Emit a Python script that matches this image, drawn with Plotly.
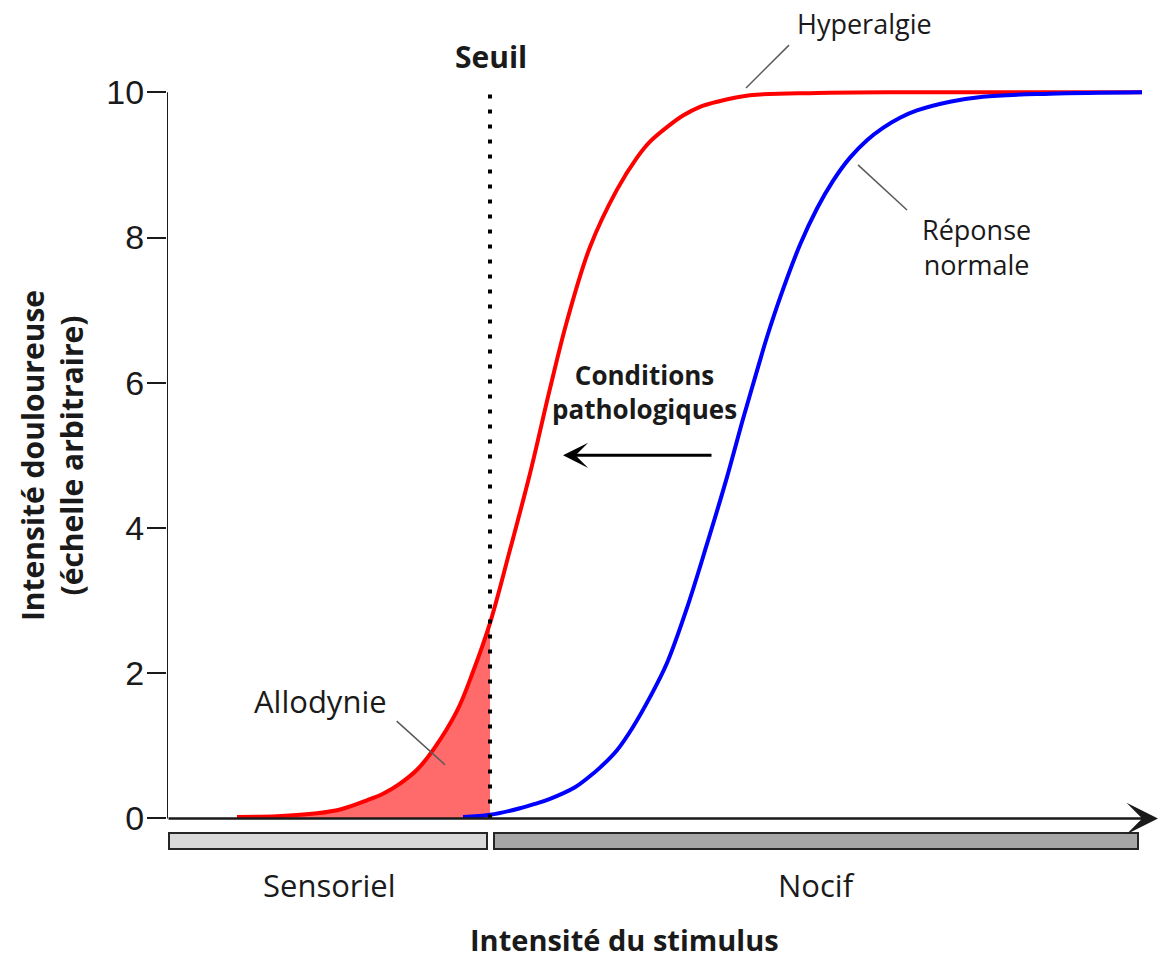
import plotly.graph_objects as go

# stimulus intensity (arbitrary units) and pain intensity
hyper_x = [7.0, 11.0, 15.0, 17.5, 20.0, 21.6, 23.3, 25.0, 26.6, 29.0, 30.6, 32.3,
           34.3, 36.3, 38.3, 40.0, 42.3, 45.0, 47.0, 48.3, 50.0, 51.6, 53.3, 55.0,
           58.3, 65.0, 73.3, 97.5]
hyper_y = [0.02, 0.03, 0.07, 0.13, 0.25, 0.34, 0.48, 0.67, 0.94, 1.48, 2.02, 2.69,
           3.70, 4.75, 5.92, 6.85, 7.87, 8.66, 9.10, 9.32, 9.52, 9.68, 9.80, 9.87,
           9.96, 9.99, 10.0, 10.0]

normal_x = [29.6, 32.3, 35.3, 36.8, 38.3, 40.8, 42.0, 43.3, 45.0, 46.6, 48.3, 50.0,
            52.0, 54.0, 56.0, 57.6, 58.8, 60.0, 61.3, 63.3, 65.0, 66.6, 68.3, 70.0,
            71.6, 73.3, 75.0, 78.3, 81.6, 88.3, 97.5]
normal_y = [0.02, 0.05, 0.14, 0.20, 0.27, 0.43, 0.55, 0.70, 0.94, 1.26, 1.67, 2.14,
            2.90, 3.78, 4.70, 5.50, 6.07, 6.63, 7.17, 7.90, 8.40, 8.78, 9.10, 9.34,
            9.51, 9.65, 9.75, 9.87, 9.94, 9.98, 10.0]

seuil = 32.3

zones = ["Sensoriel", "Nocif"]
zone_start = [0.2, 32.7]
zone_end = [32.0, 97.1]
zone_colors = ["#d9d9d9", "#a6a6a6"]

y_ticks = [0, 2, 4, 6, 8, 10]

TEXT = "#1a1a1a"
FONT = "Open Sans"
XR = [0, 99.3]
YR = [-0.6, 10.5]


def to_px(x):
    return (x - XR[0]) / (XR[1] - XR[0])


def to_py(y):
    return (y - YR[0]) / (YR[1] - YR[0])


fig = go.Figure()

# allodynia area: red curve below the threshold
allo_x = [x for x in hyper_x if x <= seuil]
allo_y = hyper_y[:len(allo_x)]
fig.add_trace(go.Scatter(
    x=allo_x, y=allo_y,
    mode='lines',
    line=dict(color='rgba(0,0,0,0)', shape='spline', simplify=False),
    fill='tozeroy',
    fillcolor='rgb(255,107,107)',
    hoverinfo='skip'
))

fig.add_trace(go.Scatter(
    x=hyper_x, y=hyper_y,
    mode='lines',
    name='Hyperalgie',
    line=dict(color='#ff0000', width=4, shape='spline', simplify=False)
))

fig.add_trace(go.Scatter(
    x=normal_x, y=normal_y,
    mode='lines',
    name='Réponse normale',
    line=dict(color='#0000ff', width=4, shape='spline', simplify=False)
))

shapes = []
# y axis line from 0 to 10
shapes.append(dict(type='line', xref='x', yref='y', x0=0, x1=0, y0=0, y1=10,
                   line=dict(color=TEXT, width=2)))
# threshold
shapes.append(dict(type='line', xref='x', yref='y', x0=seuil, x1=seuil, y0=0, y1=10.1,
                   line=dict(color='black', width=4, dash='4px,11px')))
# zone bars
for s, e, c in zip(zone_start, zone_end, zone_colors):
    shapes.append(dict(type='rect', xref='x', yref='y', x0=s, x1=e, y0=-0.2, y1=-0.42,
                       fillcolor=c, line=dict(color='#262626', width=2)))
# leader lines
for x0, y0, x1, y1 in [(22.97, 1.34, 27.8, 0.74),
                       (62.2, 10.65, 57.9, 10.06),
                       (69.1, 9.0, 74.0, 8.38)]:
    shapes.append(dict(type='line', xref='paper', yref='paper',
                       x0=to_px(x0), y0=to_py(y0), x1=to_px(x1), y1=to_py(y1),
                       line=dict(color='#595959', width=1.5)))

annotations = []
# x axis arrow
annotations.append(dict(x=99.1, y=0, ax=0, ay=0, xref='x', yref='y', axref='x', ayref='y',
                        text='', showarrow=True, arrowhead=3, arrowsize=2.1,
                        arrowwidth=2.5, arrowcolor=TEXT, standoff=0))
# shift arrow
annotations.append(dict(x=39.6, y=5.0, ax=54.6, ay=5.0, xref='x', yref='y', axref='x', ayref='y',
                        text='', showarrow=True, arrowhead=3, arrowsize=1.4,
                        arrowwidth=3, arrowcolor='black', standoff=0))


def label(text, x, y, size=31, bold=False, **kw):
    if bold:
        text = '<b>' + text + '</b>'
    annotations.append(dict(x=to_px(x), y=to_py(y), xref='paper', yref='paper', text=text,
                            xanchor='center', yanchor='middle', showarrow=False,
                            font=dict(family=FONT, size=size, color=TEXT), **kw))


label('Seuil', 32.4, 10.5, size=30, bold=True)
label('Hyperalgie', 69.7, 10.95, size=27)
label('Réponse<br>normale', 80.9, 7.87, size=27)
label('Conditions<br>pathologiques', 47.7, 5.87, size=26, bold=True)
label('Allodynie', 15.3, 1.62)
label(zones[0], 16.27, -0.92)
label(zones[1], 64.95, -0.92)
label('Intensité du stimulus', 45.77, -1.67, size=29, bold=True)
label('Intensité douloureuse<br>(échelle arbitraire)', -11.5, 4.99, size=30, bold=True,
      textangle=-90)

fig.update_layout(
    width=1160, height=958,
    margin=dict(l=167, r=0, t=56, b=96, autoexpand=False),
    template='plotly_white',
    plot_bgcolor='white',
    paper_bgcolor='white',
    showlegend=False,
    xaxis=dict(range=XR, visible=False),
    yaxis=dict(range=YR, tickvals=y_ticks, ticks='outside', ticklen=19,
               tickwidth=2, tickcolor=TEXT, showline=False, showgrid=False,
               zeroline=False, ticklabelstandoff=-4,
               tickfont=dict(family='Arial, Liberation Sans', size=34, color=TEXT)),
    shapes=shapes,
    annotations=annotations
)

fig.write_html("out.html", config={'displayModeBar': False},
               post_script="document.body.style.margin='0';")
